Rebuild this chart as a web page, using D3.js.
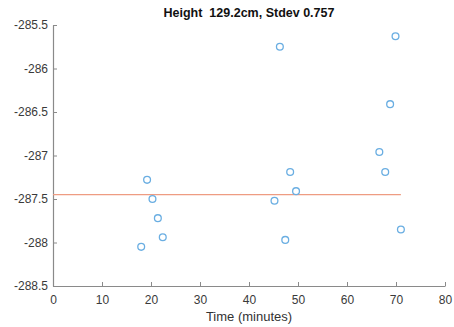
<!DOCTYPE html>
<html><head><meta charset="utf-8">
<script src="https://cdn.jsdelivr.net/npm/d3@7"></script>
<style>body{margin:0;background:#fff}svg{display:block}text{font-family:"Liberation Sans",Arial,sans-serif}</style>
</head><body><svg id="c" width="454" height="327"></svg>
<script>
const times = [18.0, 19.2, 20.3, 21.4, 22.4, 45.2, 46.3, 47.4, 48.4, 49.6, 66.6, 67.8, 68.8, 69.9, 71.0];
const heights = [-288.05, -287.28, -287.50, -287.72, -287.94, -287.52, -285.75, -287.97, -287.19, -287.41, -286.96, -287.19, -286.41, -285.63, -287.85];
const meanValue = -287.45;
const xTicks = [0,10,20,30,40,50,60,70,80];
const yTicks = [-285.5,-286,-286.5,-287,-287.5,-288,-288.5];
const titleText = "Height  129.2cm, Stdev 0.757";
const xLabel = "Time (minutes)";

const svg = d3.select("#c");
const x = d3.scaleLinear().domain([0,80]).range([53,445]);
const y = d3.scaleLinear().domain([-288.5,-285.5]).range([286,25]);

const ax = svg.append("g").attr("transform","translate(0,286)")
  .call(d3.axisBottom(x).tickValues(xTicks).tickSize(-4).tickPadding(8).tickSizeOuter(0));
const ay = svg.append("g").attr("transform","translate(53,0)")
  .call(d3.axisLeft(y).tickValues(yTicks).tickFormat(d=>String(d)).tickSize(-4).tickPadding(5).tickSizeOuter(0));
[ax,ay].forEach(g=>{
  g.select(".domain").attr("stroke","#8a8a8a").attr("stroke-width",1.2);
  g.selectAll(".tick line").attr("stroke","#8a8a8a");
  g.selectAll("text").attr("fill","#3a3a3a").attr("font-size","12px");
});
ax.selectAll("text").attr("dy","0.85em");

svg.append("line")
  .attr("x1",x(0)).attr("x2",x(d3.max(times)))
  .attr("y1",y(meanValue)).attr("y2",y(meanValue))
  .attr("stroke","#ee9c82").attr("stroke-width",1.2);

svg.append("g").selectAll("circle").data(times.map((t,i)=>[t,heights[i]])).join("circle")
  .attr("cx",d=>x(d[0])).attr("cy",d=>y(d[1])).attr("r",3.4)
  .attr("fill","none").attr("stroke","#6aaee2").attr("stroke-width",1.3);

svg.append("text").attr("x",249).attr("y",17).attr("text-anchor","middle")
  .style("white-space","pre")
  .attr("font-weight","bold").attr("font-size","12.5px").attr("fill","#111").text(titleText);
svg.append("text").attr("x",249).attr("y",321).attr("text-anchor","middle")
  .attr("font-size","13px").attr("fill","#333").text(xLabel);
</script></body></html>
